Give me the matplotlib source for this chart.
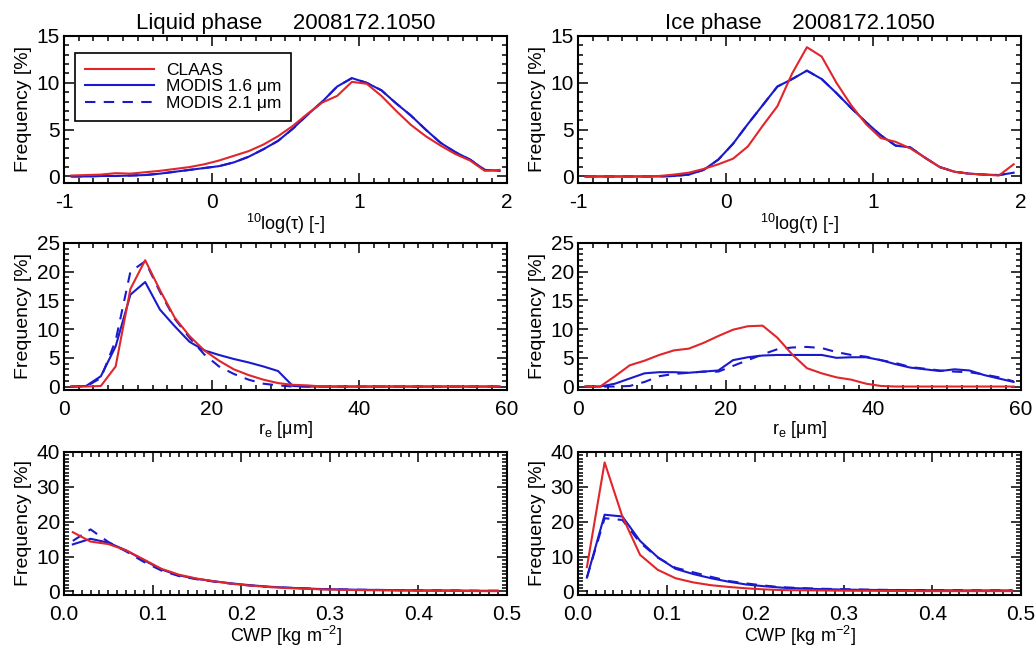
import numpy as np
import matplotlib
matplotlib.use("Agg")
import matplotlib.pyplot as plt
from matplotlib.ticker import MultipleLocator

plt.rcParams['font.family'] = ['Liberation Sans', 'DejaVu Sans']
plt.rcParams['mathtext.fontset'] = 'custom'
plt.rcParams['mathtext.rm'] = 'Liberation Sans'
plt.rcParams['mathtext.it'] = 'Liberation Sans'
plt.rcParams['mathtext.bf'] = 'Liberation Sans'
plt.rcParams['axes.unicode_minus'] = False

RED = '#e0262a'
BLUE = '#1a1acc'

# optical thickness, bin centres of 10log(tau)
tau_x = [-0.95, -0.85, -0.75, -0.65, -0.55, -0.45, -0.35, -0.25, -0.15, -0.05,
         0.05, 0.15, 0.25, 0.35, 0.45, 0.55, 0.65, 0.75, 0.85, 0.95,
         1.05, 1.15, 1.25, 1.35, 1.45, 1.55, 1.65, 1.75, 1.85, 1.95]
liq_tau_claas = [0.1, 0.15, 0.2, 0.35, 0.3, 0.45, 0.6, 0.8, 1.0, 1.3,
                 1.7, 2.2, 2.7, 3.4, 4.3, 5.4, 6.7, 7.9, 8.6, 10.1,
                 9.9, 8.6, 7.0, 5.5, 4.3, 3.3, 2.4, 1.7, 0.6, 0.7]
liq_tau_m16 = [0.0, 0.0, 0.05, 0.05, 0.1, 0.15, 0.3, 0.5, 0.7, 0.9,
               1.1, 1.5, 2.1, 2.9, 3.8, 5.1, 6.6, 8.0, 9.6, 10.5,
               10.0, 9.2, 7.8, 6.5, 5.0, 3.6, 2.6, 1.8, 0.7, 0.6]
liq_tau_m21 = liq_tau_m16
ice_tau_claas = [0.0, 0.0, 0.0, 0.0, 0.0, 0.05, 0.2, 0.4, 0.8, 1.3,
                 1.9, 3.2, 5.4, 7.5, 11.0, 13.8, 12.8, 10.0, 7.6, 5.6,
                 4.1, 3.7, 3.0, 2.0, 1.0, 0.5, 0.3, 0.2, 0.1, 1.3]
ice_tau_m16 = [0.0, 0.0, 0.0, 0.0, 0.0, 0.0, 0.05, 0.2, 0.7, 1.8,
               3.5, 5.6, 7.6, 9.6, 10.4, 11.3, 10.4, 8.9, 7.3, 5.8,
               4.4, 3.3, 3.1, 2.0, 1.0, 0.5, 0.3, 0.2, 0.15, 0.4]
ice_tau_m21 = ice_tau_m16

# effective radius, bin centres in micron
re_x = list(range(1, 60, 2))
liq_re_claas = [0, 0, 0.1, 3.5, 17.0, 22.0, 16.8, 12.0, 8.8, 6.3,
                4.5, 3.0, 2.0, 1.2, 0.6, 0.3, 0.2, 0, 0, 0,
                0, 0, 0, 0, 0, 0, 0, 0, 0, 0]
liq_re_m16 = [0, 0.1, 1.8, 7.0, 16.0, 18.2, 13.4, 10.5, 7.8, 6.3,
              5.5, 4.8, 4.2, 3.5, 2.7, 0.1, 0, 0, 0, 0,
              0, 0, 0, 0, 0, 0, 0, 0, 0, 0]
liq_re_m21 = [0, 0, 1.5, 8.0, 20.0, 21.8, 16.5, 11.8, 8.5, 5.6,
              3.5, 2.2, 1.2, 0.5, 0.2, 0, 0, 0, 0, 0,
              0, 0, 0, 0, 0, 0, 0, 0, 0, 0]
ice_re_claas = [0, 0, 1.8, 3.7, 4.5, 5.5, 6.3, 6.6, 7.6, 8.8,
                9.9, 10.5, 10.6, 8.5, 5.6, 3.2, 2.3, 1.6, 1.2, 0.5,
                0.1, 0, 0, 0, 0, 0, 0, 0, 0, 0]
ice_re_m16 = [0, 0, 0.5, 1.4, 2.3, 2.5, 2.5, 2.4, 2.6, 2.8,
              4.6, 5.1, 5.4, 5.5, 5.5, 5.5, 5.5, 5.0, 5.1, 5.1,
              4.6, 3.9, 3.3, 3.0, 2.7, 3.0, 2.8, 2.0, 1.4, 0.8]
ice_re_m21 = [0, 0, 0, 0.1, 0.8, 1.8, 2.2, 2.4, 2.6, 2.6,
              3.6, 4.6, 5.6, 6.5, 6.8, 6.9, 6.7, 6.0, 5.5, 5.2,
              4.6, 4.1, 3.4, 3.1, 2.8, 2.6, 2.5, 2.1, 1.6, 0.9]

# cloud water path, bin centres in kg m-2
cwp_x = [round(0.01 + 0.02 * i, 2) for i in range(25)]
liq_cwp_claas = [17.0, 14.3, 13.6, 11.8, 9.2, 6.5, 4.8, 3.7, 2.9, 2.2,
                 1.7, 1.3, 1.0, 0.8, 0.6, 0.5, 0.4, 0.35, 0.3, 0.25,
                 0.2, 0.2, 0.15, 0.1, 0.1]
liq_cwp_m16 = [13.5, 15.1, 14.0, 11.8, 9.0, 6.3, 4.6, 3.6, 2.9, 2.3,
               1.8, 1.4, 1.1, 0.9, 0.7, 0.6, 0.5, 0.45, 0.4, 0.35,
               0.3, 0.3, 0.25, 0.2, 0.2]
liq_cwp_m21 = [14.5, 17.8, 14.2, 11.5, 8.5, 6.0, 4.4, 3.5, 2.8, 2.2,
               1.7, 1.3, 1.1, 0.9, 0.7, 0.6, 0.5, 0.45, 0.4, 0.35,
               0.3, 0.3, 0.25, 0.2, 0.2]
ice_cwp_claas = [7.0, 37.0, 21.5, 10.5, 6.2, 3.8, 2.6, 1.8, 1.3, 0.9,
                 0.6, 0.4, 0.35, 0.3, 0.25, 0.2, 0.2, 0.15, 0.15, 0.1,
                 0.1, 0.1, 0.1, 0.1, 0.1]
ice_cwp_m16 = [4.0, 22.0, 21.5, 14.5, 9.8, 6.5, 5.0, 3.8, 2.8, 2.0,
               1.5, 1.1, 0.9, 0.7, 0.6, 0.5, 0.45, 0.4, 0.4, 0.35,
               0.35, 0.3, 0.3, 0.3, 0.3]
ice_cwp_m21 = [4.0, 21.0, 20.5, 14.0, 9.7, 6.8, 5.5, 4.2, 3.0, 2.3,
               1.7, 1.2, 1.0, 0.8, 0.7, 0.6, 0.5, 0.45, 0.4, 0.4,
               0.35, 0.35, 0.3, 0.3, 0.3]

panels = [
    # x, claas, m16, m21, xlim, xmaj, xmin, ylim, ymaj, ymin, xlabel
    (tau_x, liq_tau_claas, liq_tau_m16, liq_tau_m21, (-1, 2), 1, 0.1, (-0.7, 15), 5, 1,
     r'$^{\mathrm{10}}$log(τ) [-]'),
    (tau_x, ice_tau_claas, ice_tau_m16, ice_tau_m21, (-1, 2), 1, 0.1, (-0.7, 15), 5, 1,
     r'$^{\mathrm{10}}$log(τ) [-]'),
    (re_x, liq_re_claas, liq_re_m16, liq_re_m21, (0, 60), 20, 2, (-0.6, 25), 5, 1,
     r'r$_{\mathrm{e}}$ [μm]'),
    (re_x, ice_re_claas, ice_re_m16, ice_re_m21, (0, 60), 20, 2, (-0.6, 25), 5, 1,
     r'r$_{\mathrm{e}}$ [μm]'),
    (cwp_x, liq_cwp_claas, liq_cwp_m16, liq_cwp_m21, (0, 0.5), 0.1, 0.01, (-1, 40), 10, 1,
     r'CWP [kg m$^{\mathrm{-2}}$]'),
    (cwp_x, ice_cwp_claas, ice_cwp_m16, ice_cwp_m21, (0, 0.5), 0.1, 0.01, (-1, 40), 10, 1,
     r'CWP [kg m$^{\mathrm{-2}}$]'),
]

col_x = [0.0618, 0.5585]
row_y = [(0.7167, 0.2276), (0.3963, 0.2276), (0.079, 0.2214)]

fig = plt.figure(figsize=(10.35, 6.46), dpi=100)
axes = []
for i, (x, c, m16, m21, xlim, xmaj, xmin, ylim, ymaj, ymin, xlabel) in enumerate(panels):
    row, col = divmod(i, 2)
    ax = fig.add_axes([col_x[col], row_y[row][0], 0.428, row_y[row][1]])
    ax.plot(x, m21, color=BLUE, lw=1.5, ls=(0, (5, 4)), label='MODIS 2.1 μm')
    ax.plot(x, m16, color=BLUE, lw=1.5, label='MODIS 1.6 μm')
    ax.plot(x, c, color=RED, lw=1.5, label='CLAAS')
    ax.set_xlim(*xlim)
    ax.set_ylim(*ylim)
    ax.xaxis.set_major_locator(MultipleLocator(xmaj))
    ax.xaxis.set_minor_locator(MultipleLocator(xmin))
    ax.yaxis.set_major_locator(MultipleLocator(ymaj))
    ax.yaxis.set_minor_locator(MultipleLocator(ymin))
    ax.tick_params(which='both', direction='in', top=True, right=True, labelsize=15, width=1.1)
    ax.tick_params(which='major', length=7)
    ax.tick_params(which='minor', length=3.5)
    ax.tick_params(axis='x', pad=7)
    ax.tick_params(axis='y', pad=3)
    for s in ax.spines.values():
        s.set_linewidth(1.5)
    if xlim == (0, 0.5):
        ax.xaxis.set_major_formatter(plt.FormatStrFormatter('%.1f'))
    ax.set_xlabel(xlabel, fontsize=13, labelpad=0)
    ax.set_ylabel('Frequency [%]', fontsize=14, labelpad=3)
    axes.append(ax)

axes[0].set_title('Liquid phase     2008172.1050', fontsize=16, pad=5)
axes[1].set_title('Ice phase     2008172.1050', fontsize=16, pad=5)

h, l = axes[0].get_legend_handles_labels()
order = [2, 1, 0]
leg = axes[0].legend([h[k] for k in order], [l[k] for k in order], loc='upper left',
                     bbox_to_anchor=(0.025, 0.885), borderaxespad=0,
                     fontsize=12.5, frameon=True, fancybox=False, edgecolor='black',
                     framealpha=1, handlelength=4.0, labelspacing=0.1,
                     handletextpad=0.7, borderpad=0.55)
leg.get_frame().set_linewidth(1.2)

plt.savefig('out.png', dpi=100)
plt.close()
